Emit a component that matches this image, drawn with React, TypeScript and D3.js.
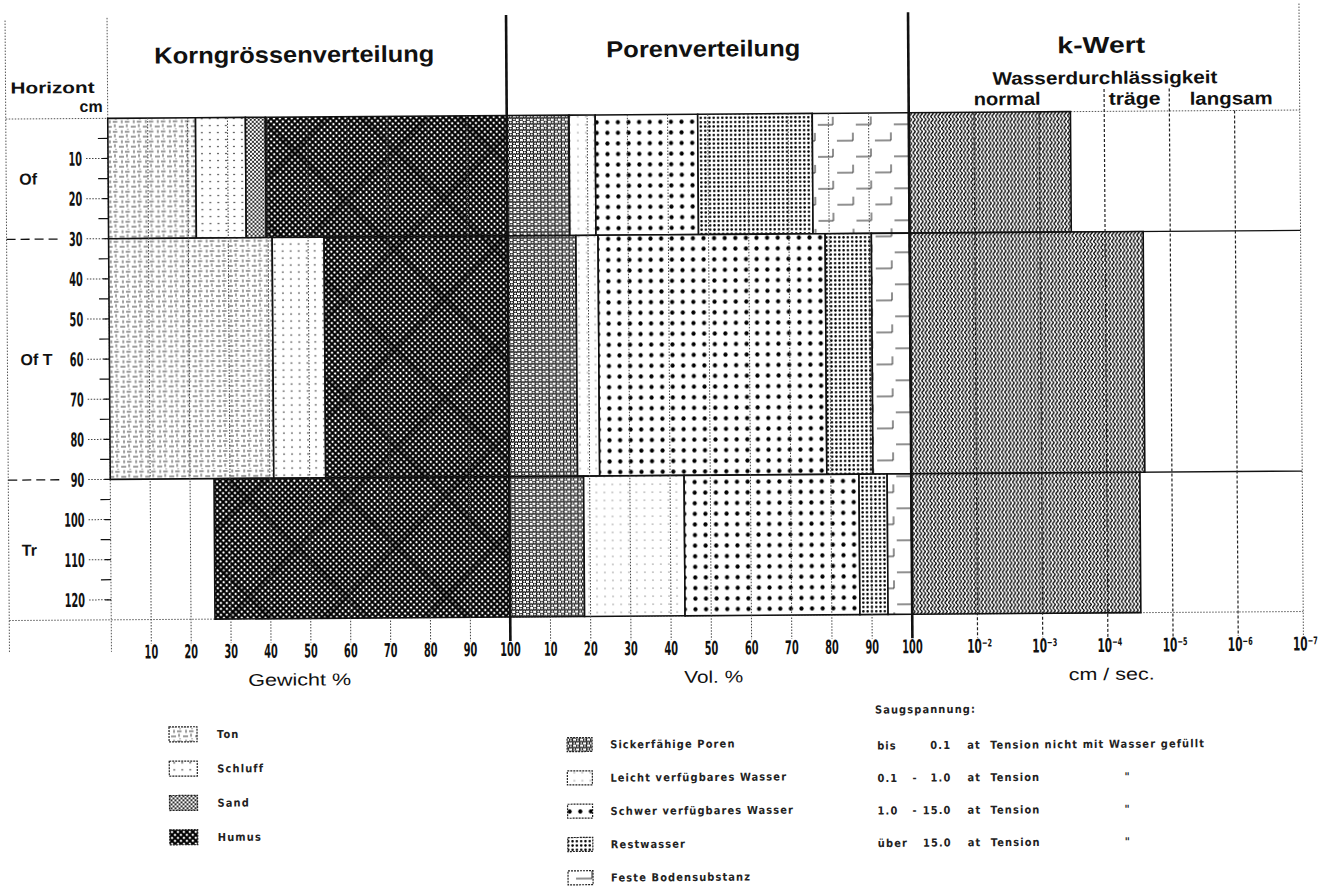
import React, { useRef, useEffect } from 'react';
import * as d3 from 'd3';

// Horizonte und Tiefen (cm)
const horizons = ['Of', 'Of T', 'Tr'];
const horizonTop = [0, 30, 90];
const horizonBottom = [30, 90, 125];

// Korngrössenverteilung, Gewicht % je Horizont
const grainClasses = ['Ton', 'Schluff', 'Sand', 'Humus'];
const grainTon = [22, 41, 0];
const grainSchluff = [12.5, 13, 0];
const grainSand = [5, 0, 0];
const grainHumus = [60.5, 46, 74];

// Porenverteilung, Vol. % je Horizont
const poreClasses = [
  'Sickerfähige Poren',
  'Leicht verfügbares Wasser',
  'Schwer verfügbares Wasser',
  'Restwasser',
  'Feste Bodensubstanz',
];
const poreSicker = [15.5, 17, 18.5];
const poreLeicht = [6.5, 5.5, 25];
const poreSchwer = [25.5, 56.5, 43.5];
const poreRest = [28.5, 11.5, 7];
const poreFest = [24, 9.5, 6];

// k-Wert, cm/sec je Horizont
const kWert = [3.3e-4, 2.6e-5, 3.1e-5];

// Achsen
const depthTicks = [5, 10, 15, 20, 25, 30, 35, 40, 45, 50, 55, 60, 65, 70, 75, 80, 85, 90, 95, 100, 105, 110, 115, 120];
const percentTicks = [10, 20, 30, 40, 50, 60, 70, 80, 90, 100];
const kTicks = [1e-1, 1e-2, 1e-3, 1e-4, 1e-5, 1e-6, 1e-7];
const kTickLabels = ['100', '10⁻²', '10⁻³', '10⁻⁴', '10⁻⁵', '10⁻⁶', '10⁻⁷'];
const permeability = ['normal', 'träge', 'langsam'];

// Saugspannung
const saugFrom = ['bis', '0.1', '1.0', 'über'];
const saugDash = ['', '-', '-', ''];
const saugTo = ['0.1', '1.0', '15.0', '15.0'];
const saugText = ['Tension nicht mit Wasser gefüllt', 'Tension', 'Tension', 'Tension'];
const saugDitto = ['', '"', '"', '"'];

const grainPatterns = ['ton', 'schluff', 'sand', 'humus'];
const porePatterns = ['sicker', 'leicht', 'schwer', 'rest', 'fest'];

const SANS = "'Liberation Sans', Arial, sans-serif";
const COND = "'DejaVu Sans Condensed', 'DejaVu Sans', sans-serif";

export default function App() {
  const svgRef = useRef<SVGSVGElement>(null);

  useEffect(() => {
    if (!svgRef.current) return;
    const svg = d3.select(svgRef.current);
    svg.selectAll('*').remove();

    const y = d3.scaleLinear().domain([0, 125]).range([114.5, 616]);
    const xGrain = d3.scaleLinear().domain([0, 100]).range([110, 509]);
    const xPore = d3.scaleLinear().domain([0, 100]).range([509, 911]);
    const xK = d3.scaleLog().domain([1e-1, 1e-7]).range([911, 1302]);

    const AXIS_BOTTOM = 640;

    // ---- patterns
    const defs = svg.append('defs');
    const pat = (id: string, w: number, h: number, tr?: string) => {
      const p = defs.append('pattern')
        .attr('id', id)
        .attr('width', w)
        .attr('height', h)
        .attr('patternUnits', 'userSpaceOnUse');
      if (tr) p.attr('patternTransform', tr);
      p.append('rect').attr('width', w).attr('height', h).attr('fill', 'white');
      return p;
    };

    const ton = pat('ton', 12, 10);
    ton.append('path').attr('d', 'M1 3H6 M9 0.5V3.5 M4 6.5V9.5 M7 8H11.5')
      .attr('stroke', '#222').attr('stroke-width', 0.9).attr('fill', 'none');
    ton.append('circle').attr('cx', 10).attr('cy', 5.5).attr('r', 0.5).attr('fill', '#222');

    const schluff = pat('schluff', 8, 7);
    schluff.append('circle').attr('cx', 4).attr('cy', 3.5).attr('r', 0.8).attr('fill', '#222');

    const sand = pat('sand', 4, 4);
    sand.append('circle').attr('cx', 1).attr('cy', 1).attr('r', 1.05).attr('fill', '#111');
    sand.append('circle').attr('cx', 3).attr('cy', 3).attr('r', 1.05).attr('fill', '#111');

    const humus = pat('humus', 4.2, 4.2, 'rotate(45)');
    humus.append('path').attr('d', 'M0 2.1H4.2 M2.1 0V4.2')
      .attr('stroke', '#000').attr('stroke-width', 2.05);

    const humusBig = defs.append('pattern')
      .attr('id', 'humusBig')
      .attr('width', 70).attr('height', 70)
      .attr('patternUnits', 'userSpaceOnUse')
      .attr('patternTransform', 'rotate(45)');
    humusBig.append('path').attr('d', 'M0 35H70 M35 0V70')
      .attr('stroke', '#000').attr('stroke-width', 4).attr('opacity', 0.35);

    const sicker = pat('sicker', 7, 6);
    sicker.append('circle').attr('cx', 1.75).attr('cy', 1.5).attr('r', 1.7)
      .attr('fill', 'none').attr('stroke', '#000').attr('stroke-width', 1.2);
    sicker.append('circle').attr('cx', 5.25).attr('cy', 4.5).attr('r', 1.7)
      .attr('fill', 'none').attr('stroke', '#000').attr('stroke-width', 1.2);

    const leicht = pat('leicht', 8, 8);
    leicht.append('circle').attr('cx', 4).attr('cy', 4).attr('r', 0.6).attr('fill', '#333');

    const schwer = pat('schwer', 10.6, 10.6);
    schwer.append('circle').attr('cx', 5.3).attr('cy', 5.3).attr('r', 2.1).attr('fill', '#000');

    const rest = pat('rest', 4.3, 4.3);
    rest.append('circle').attr('cx', 2.15).attr('cy', 2.15).attr('r', 1.25).attr('fill', '#000');

    const fest = pat('fest', 38, 32);
    fest.append('path').attr('d', 'M3 14H19V6 M22 30H37V22')
      .attr('stroke', '#222').attr('stroke-width', 1).attr('fill', 'none');

    const wave = pat('wave', 3.6, 6);
    wave.append('path').attr('d', 'M1.8 0C3.4 1.5 3.4 1.5 1.8 3C0.2 4.5 0.2 4.5 1.8 6')
      .attr('stroke', '#000').attr('stroke-width', 1.35).attr('fill', 'none');

    // scanned sheet is slightly tilted
    const root = svg.append('g').attr('transform', 'rotate(-0.4 660 440)');

    const dotted = (g: any, x1: number, y1: number, x2: number, y2: number, w = 0.9) =>
      g.append('line')
        .attr('x1', x1).attr('y1', y1).attr('x2', x2).attr('y2', y2)
        .attr('stroke', '#444').attr('stroke-width', w)
        .attr('stroke-dasharray', '1.5,1.5');

    const solid = (g: any, x1: number, y1: number, x2: number, y2: number, w = 1.3) =>
      g.append('line')
        .attr('x1', x1).attr('y1', y1).attr('x2', x2).attr('y2', y2)
        .attr('stroke', '#111').attr('stroke-width', w);

    // ---- frame and background lines
    const bg = root.append('g');
    dotted(bg, 8, 16, 8, 648);
    dotted(bg, 110, 14, 110, 648);
    dotted(bg, 1302, 8, 1302, AXIS_BOTTOM);
    dotted(bg, 8, y(0), 110, y(0));
    dotted(bg, 8, y(125), 1302, y(125));
    dotted(bg, 911, y(0), 1302, y(0));
    solid(bg, 911, y(30), 1302, y(30), 1.4);
    solid(bg, 911, y(90), 1302, y(90), 1.4);

    // ---- bars
    const bars = root.append('g');
    const drawBar = (x0: number, x1: number, d0: number, d1: number, id: string) => {
      bars.append('rect')
        .attr('x', x0).attr('y', y(d0))
        .attr('width', x1 - x0).attr('height', y(d1) - y(d0))
        .attr('fill', `url(#${id})`);
      if (id === 'humus') {
        bars.append('rect')
          .attr('x', x0).attr('y', y(d0))
          .attr('width', x1 - x0).attr('height', y(d1) - y(d0))
          .attr('fill', 'url(#humusBig)');
      }
      bars.append('rect')
        .attr('x', x0).attr('y', y(d0))
        .attr('width', x1 - x0).attr('height', y(d1) - y(d0))
        .attr('fill', 'none').attr('stroke', '#111').attr('stroke-width', 1.6);
    };

    const grainSeries = [grainTon, grainSchluff, grainSand, grainHumus];
    const poreSeries = [poreSicker, poreLeicht, poreSchwer, poreRest, poreFest];

    horizons.forEach((_, i) => {
      const gTotal = d3.sum(grainSeries, (s) => s[i]);
      let acc = 100 - gTotal;
      grainSeries.forEach((s, k) => {
        if (s[i] <= 0) return;
        drawBar(xGrain(acc), xGrain(acc + s[i]), horizonTop[i], horizonBottom[i], grainPatterns[k]);
        acc += s[i];
      });

      let pacc = 0;
      poreSeries.forEach((s, k) => {
        if (s[i] <= 0) return;
        drawBar(xPore(pacc), xPore(pacc + s[i]), horizonTop[i], horizonBottom[i], porePatterns[k]);
        pacc += s[i];
      });

      drawBar(xK(1e-1), xK(kWert[i]), horizonTop[i], horizonBottom[i], 'wave');
    });

    // ---- vertical grid (over the bars)
    const grid = root.append('g');
    percentTicks.slice(0, -1).forEach((t) => {
      dotted(grid, xGrain(t), y(0), xGrain(t), AXIS_BOTTOM, 1);
      dotted(grid, xPore(t), y(0), xPore(t), AXIS_BOTTOM, 1);
    });
    kTicks.slice(1, -1).forEach((t) => {
      const top = t === 1e-4 || t === 1e-5 ? 92 : y(0);
      grid.append('line')
        .attr('x1', xK(t)).attr('x2', xK(t))
        .attr('y1', top).attr('y2', AXIS_BOTTOM)
        .attr('stroke', '#222').attr('stroke-width', 1.2)
        .attr('stroke-dasharray', '3,2');
    });

    // section dividers
    [xGrain(100), xPore(100)].forEach((x) => {
      solid(grid, x, 14, x, AXIS_BOTTOM, 2.6);
    });

    // ---- left axis (Tiefe)
    const left = root.append('g');
    depthTicks.forEach((d) => {
      if (d % 10 === 0) {
        dotted(left, 88, y(d), 110, y(d), 1);
        solid(left, 104, y(d), 110, y(d), 1.2);
        const label = String(d);
        left.append('text')
          .attr('x', 84).attr('y', y(d) + 7)
          .attr('text-anchor', 'end')
          .attr('font-family', COND).attr('font-weight', 'bold')
          .attr('font-size', 19)
          .attr('textLength', label.length * 6.8)
          .attr('lengthAdjust', 'spacingAndGlyphs')
          .attr('fill', '#111')
          .text(label);
      } else {
        solid(left, 100, y(d), 110, y(d), 1.2);
      }
    });
    [30, 90].forEach((d) => {
      left.append('line')
        .attr('x1', 8).attr('x2', 62).attr('y1', y(d)).attr('y2', y(d))
        .attr('stroke', '#111').attr('stroke-width', 1.3)
        .attr('stroke-dasharray', '9,5');
    });
    horizons.forEach((h, i) => {
      left.append('text')
        .attr('x', 21).attr('y', y((horizonTop[i] + horizonBottom[i]) / 2) + 5.5)
        .attr('font-family', SANS).attr('font-weight', 'bold')
        .attr('font-size', 16)
        .attr('fill', '#111')
        .text(h);
    });
    left.append('text')
      .attr('x', 13).attr('y', 89)
      .attr('font-family', SANS).attr('font-weight', 'bold').attr('font-size', 16)
      .attr('textLength', 84).attr('lengthAdjust', 'spacingAndGlyphs')
      .attr('fill', '#111').text('Horizont');
    left.append('text')
      .attr('x', 105).attr('y', 108)
      .attr('text-anchor', 'end')
      .attr('font-family', SANS).attr('font-weight', 'bold').attr('font-size', 16)
      .attr('fill', '#111').text('cm');

    // ---- bottom axes
    const bottom = root.append('g');
    const tickLabel = (x: number, label: string, len: number) => {
      bottom.append('text')
        .attr('x', x).attr('y', 655)
        .attr('text-anchor', 'middle')
        .attr('font-family', COND).attr('font-weight', 'bold')
        .attr('font-size', 19)
        .attr('textLength', len)
        .attr('lengthAdjust', 'spacingAndGlyphs')
        .attr('fill', '#111')
        .text(label);
    };
    percentTicks.forEach((t) => {
      tickLabel(xGrain(t), String(t), String(t).length * 6.8);
      if (t < 100) tickLabel(xPore(t), String(t), String(t).length * 6.8);
    });
    tickLabel(xPore(100), '100', 20.4);
    kTicks.forEach((t, i) => {
      if (i === 0) return;
      tickLabel(xK(t) + 2, kTickLabels[i], 25);
    });

    const axisTitle = (x: number, label: string, len: number) => {
      bottom.append('text')
        .attr('x', x).attr('y', 683)
        .attr('text-anchor', 'middle')
        .attr('font-family', SANS).attr('font-size', 17)
        .attr('textLength', len).attr('lengthAdjust', 'spacingAndGlyphs')
        .attr('fill', '#111').text(label);
    };
    axisTitle(298, 'Gewicht %', 103);
    axisTitle(712, 'Vol. %', 59);
    axisTitle(1110, 'cm / sec.', 86);

    // ---- headers
    const head = root.append('g');
    const headText = (x0: number, x1: number, yy: number, label: string, size: number, weight = 'bold') => {
      head.append('text')
        .attr('x', x0).attr('y', yy)
        .attr('font-family', SANS).attr('font-weight', weight)
        .attr('font-size', size)
        .attr('textLength', x1 - x0).attr('lengthAdjust', 'spacingAndGlyphs')
        .attr('fill', '#111').text(label);
    };
    headText(157, 437, 60, 'Korngrössenverteilung', 23);
    headText(609, 803, 57, 'Porenverteilung', 23);
    headText(1060, 1148, 56, 'k-Wert', 23);
    headText(995, 1220, 87, 'Wasserdurchlässigkeit', 18);
    headText(976, 1043, 107.5, permeability[0], 18);
    headText(1111, 1163, 108, permeability[1], 18);
    headText(1192, 1275, 108.5, permeability[2], 18);

    // ---- legends
    const leg = root.append('g');
    const legText = (x: number, yy: number, label: string, anchor = 'start') => {
      leg.append('text')
        .attr('x', x).attr('y', yy)
        .attr('text-anchor', anchor)
        .attr('font-family', COND).attr('font-weight', 'bold')
        .attr('font-size', 11).attr('letter-spacing', 1.1)
        .attr('fill', '#222').text(label);
    };
    const swatch = (x: number, cy: number, w: number, h: number, id: string) => {
      leg.append('rect')
        .attr('x', x).attr('y', cy - h / 2).attr('width', w).attr('height', h)
        .attr('fill', `url(#${id})`)
        .attr('stroke', '#222').attr('stroke-width', 1.2)
        .attr('stroke-dasharray', '2,1');
    };

    grainClasses.forEach((c, i) => {
      const cy = 731 + i * 34.3;
      swatch(167, cy, 28, 15, grainPatterns[i]);
      legText(215, cy + 4, c);
    });
    poreClasses.forEach((c, i) => {
      const cy = 744 + i * 33.3;
      swatch(565, cy, 25, 14, porePatterns[i]);
      legText(608, cy + 4, c);
    });

    legText(873, 715, 'Saugspannung:');
    saugFrom.forEach((f, i) => {
      const yy = 751 + i * 32.5;
      legText(875, yy, f);
      legText(910, yy, saugDash[i]);
      legText(949, yy, saugTo[i], 'end');
      legText(965, yy, 'at');
      legText(988, yy, saugText[i]);
      legText(1122, yy, saugDitto[i]);
    });
  }, []);

  return (
    <svg
      ref={svgRef}
      width={1335}
      height={886}
      style={{ position: 'absolute', left: 0, top: 0, display: 'block', background: 'white' }}
    />
  );
}
